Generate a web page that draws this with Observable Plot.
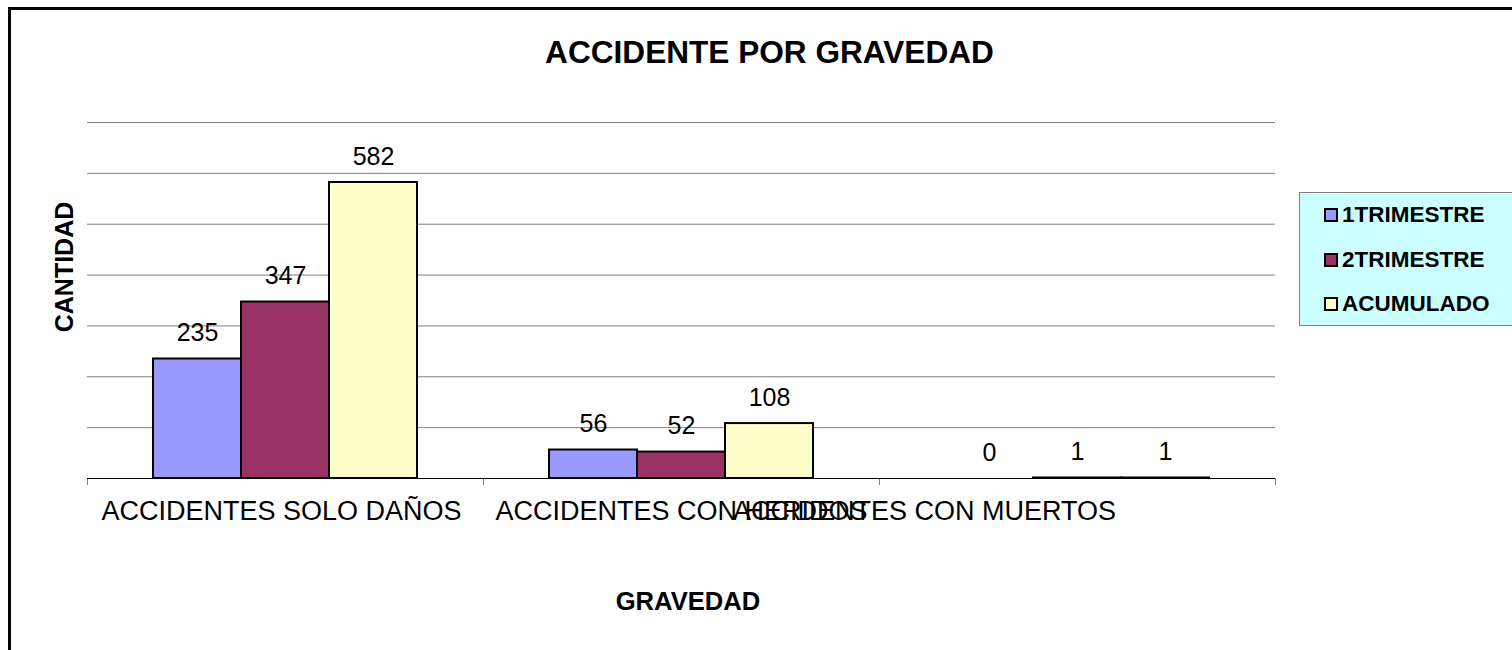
<!DOCTYPE html>
<html>
<head>
<meta charset="utf-8">
<script src="https://cdn.jsdelivr.net/npm/d3@7"></script>
<script src="https://cdn.jsdelivr.net/npm/@observablehq/plot@0.6"></script>
<style>
  html, body { margin: 0; padding: 0; background: white; overflow: hidden; }
  #wrap { position: relative; width: 1512px; height: 650px; overflow: hidden; font-family: "Liberation Sans", Arial, sans-serif; }
  #frame { position: absolute; left: 8px; top: 7px; width: 2000px; height: 2000px; border-left: 3px solid #000; border-top: 3px solid #000; box-sizing: border-box; }
  #chart { position: absolute; left: 0; top: 0; }
  .lbl { position: absolute; font-weight: bold; color: #000; white-space: nowrap; }
  #title { left: 769.5px; top: 53px; font-size: 31.6px; line-height: 31.6px; transform: translate(-50%, -50%); }
  #ytitle { left: 63.7px; top: 266.7px; font-size: 25px; line-height: 25px; transform: translate(-50%, -50%) rotate(-90deg); }
  #xtitle { left: 688px; top: 601.7px; font-size: 25.6px; line-height: 25.6px; transform: translate(-50%, -50%); }
  #legend { position: absolute; left: 1299px; top: 192px; width: 240px; height: 134px; background: #CCFFFF; border: 1px solid #808080; box-sizing: border-box; }
  .item { position: absolute; left: 24px; height: 24px; display: flex; align-items: center; font-weight: bold; font-size: 22.5px; line-height: 24px; transform: translateY(-50%); }
  .sw { width: 10px; height: 10px; border: 2px solid #000; margin-right: 4px; }
</style>
</head>
<body>
<div id="wrap">
  <div id="frame"></div>
  <div id="chart"></div>
  <div id="title" class="lbl">ACCIDENTE POR GRAVEDAD</div>
  <div id="ytitle" class="lbl">CANTIDAD</div>
  <div id="xtitle" class="lbl">GRAVEDAD</div>
  <div id="legend"></div>
</div>
<script>
const categories = ["ACCIDENTES SOLO DAÑOS", "ACCIDENTES CON HERIDOS", "ACCIDENTES CON MUERTOS"];
const series = ["1TRIMESTRE", "2TRIMESTRE", "ACUMULADO"];
const trimestre1 = [235, 56, 0];
const trimestre2 = [347, 52, 1];
const acumulado = [582, 108, 1];
const colors = ["#9999FF", "#993366", "#FFFFCC"];
const yTicks = [0, 100, 200, 300, 400, 500, 600, 700];

const valuesBySeries = [trimestre1, trimestre2, acumulado];
const data = [];
categories.forEach((c, i) => {
  series.forEach((s, j) => {
    data.push({category: c, series: s, value: valuesBySeries[j][i]});
  });
});

const font = '"Liberation Sans", Arial, sans-serif';

const chart = Plot.plot({
  width: 1512,
  height: 650,
  marginLeft: 87,
  marginRight: 237,
  marginTop: 122,
  marginBottom: 172,
  style: {fontFamily: font, background: "transparent", overflow: "visible"},
  fx: {domain: categories, padding: 0},
  x: {domain: series, paddingInner: 0, paddingOuter: 0.75, axis: null},
  y: {domain: [0, 700], axis: null},
  color: {domain: series, range: colors},
  marks: [
    Plot.gridY(yTicks.filter(d => d > 0), {stroke: "#808080", strokeOpacity: 1, strokeWidth: 1}),
    Plot.axisFx({anchor: "bottom", tickSize: 7, tickFormat: () => "", label: null, dx: -198, stroke: "#808080"}),
    Plot.axisFx({anchor: "bottom", tickSize: 7, tickFormat: () => "", label: null, dx: 198, stroke: "#808080"}),
    Plot.ruleY([0], {stroke: "#000", strokeWidth: 1}),
    Plot.barY(data, {fx: "category", x: "series", y: "value", fill: "series", stroke: "#000", strokeWidth: 2}),
    Plot.text(data, {fx: "category", x: "series", y: "value", text: d => String(d.value), dy: -26, fontSize: 25, fill: "#000"}),
    Plot.text(categories.filter((d, i) => i === 0), {fx: d => d, text: d => d, frameAnchor: "bottom", dy: 41, dx: -4, fontSize: 27, fill: "#000"}),
    Plot.text(categories.filter((d, i) => i === 1), {fx: d => d, text: d => d, frameAnchor: "bottom", dy: 41, fontSize: 27, fill: "#000"}),
    Plot.text(categories.filter((d, i) => i === 2), {fx: d => d, text: d => d, frameAnchor: "bottom", dy: 41, dx: -153, fontSize: 27, fill: "#000"})
  ]
});
document.getElementById("chart").appendChild(chart);

const legend = document.getElementById("legend");
series.forEach((s, i) => {
  const item = document.createElement("div");
  item.className = "item";
  item.style.top = (22 + i * 44.5) + "px";
  const sw = document.createElement("span");
  sw.className = "sw";
  sw.style.background = colors[i];
  const t = document.createElement("span");
  t.textContent = s;
  item.appendChild(sw);
  item.appendChild(t);
  legend.appendChild(item);
});
</script>
</body>
</html>
